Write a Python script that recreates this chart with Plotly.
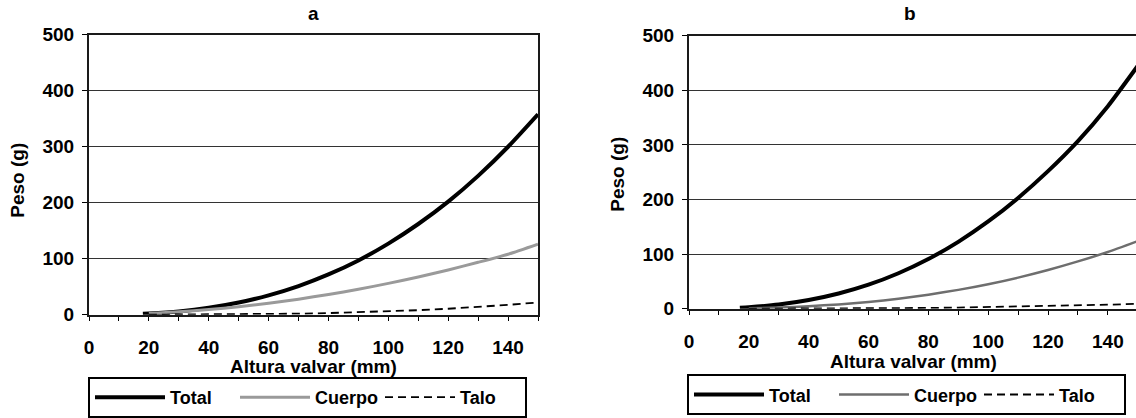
import plotly.graph_objects as go

# ---------------- data ----------------
# Panel a
a_x_total = [18, 20, 30, 40, 50, 60, 70, 80, 90, 100, 110, 120, 130, 140, 150]
a_total = [1.6, 2.1, 5.9, 12.3, 21.7, 34.6, 51.2, 72, 97, 127, 162, 202, 248, 300, 358]
a_x_cuerpo = [20, 30, 40, 50, 60, 70, 80, 90, 100, 110, 120, 130, 140, 150]
a_cuerpo = [2.4, 5.3, 9.3, 14.4, 20.5, 27.8, 36.2, 45.5, 56, 67.5, 80, 93.6, 108, 126]
a_x_talo = [20, 30, 40, 50, 60, 70, 80, 90, 100, 110, 120, 130, 140, 150]
a_talo = [0.1, 0.2, 0.4, 0.7, 1.2, 1.9, 2.9, 4.2, 6, 8.1, 10.7, 13.9, 17.6, 22]

# Panel b
b_x_total = [17, 20, 30, 40, 50, 60, 70, 80, 90, 100, 110, 120, 130, 140, 150]
b_total = [1.8, 2.8, 7.7, 15.9, 27.9, 44.1, 65.1, 91.1, 122.6, 159.9, 203, 252, 307, 371, 445]
b_x_cuerpo = [20, 30, 40, 50, 60, 70, 80, 90, 100, 110, 120, 130, 140, 150]
b_cuerpo = [0.8, 2.2, 4.6, 8.0, 12.5, 18.4, 25.8, 34.6, 45, 57.1, 71, 86.7, 104, 124]
b_x_talo = [20, 30, 40, 50, 60, 70, 80, 90, 100, 110, 120, 130, 140, 150]
b_talo = [0.1, 0.2, 0.3, 0.5, 0.7, 1.0, 1.5, 2.2, 3.0, 4.0, 5.0, 6.2, 7.5, 9.0]

x_ticks = [0, 20, 40, 60, 80, 100, 120, 140]
y_ticks = [0, 100, 200, 300, 400, 500]
panel_titles = ["a", "b"]
x_title = "Altura valvar (mm)"
y_title = "Peso (g)"
names = ["Total", "Cuerpo", "Talo"]

# ---------------- figure ----------------
W, H = 1136, 418
FONT = "Liberation Sans, Arial, Helvetica, sans-serif"

fig = go.Figure()

def add_panel(xa, ya, legend, xt, yt, xc, yc, xl, yl, cuerpo_color, cuerpo_w):
    fig.add_trace(go.Scatter(x=xt, y=yt, mode="lines", name=names[0],
                             line=dict(color="black", width=4, shape="spline", smoothing=0.6),
                             xaxis=xa, yaxis=ya, legend=legend))
    fig.add_trace(go.Scatter(x=xc, y=yc, mode="lines", name=names[1],
                             line=dict(color=cuerpo_color, width=cuerpo_w, shape="spline", smoothing=0.6),
                             xaxis=xa, yaxis=ya, legend=legend))
    fig.add_trace(go.Scatter(x=xl, y=yl, mode="lines", name=names[2],
                             line=dict(color="black", width=1.8, dash="8px,5px"),
                             xaxis=xa, yaxis=ya, legend=legend))

add_panel("x", "y", "legend", a_x_total, a_total, a_x_cuerpo, a_cuerpo,
          a_x_talo, a_talo, "#9a9a9a", 3)
add_panel("x2", "y2", "legend2", b_x_total, b_total, b_x_cuerpo, b_cuerpo,
          b_x_talo, b_talo, "#6e6e6e", 2.5)

# pixel geometry -> paper fractions
def px_x(v):
    return v / W

def px_y(v):
    return (H - v) / H

tickfont = dict(family=FONT, size=19, color="black", weight="bold")

def xaxis_cfg(domain, rng, anchor):
    return dict(domain=domain, range=rng, anchor=anchor,
                tickmode="array", tickvals=x_ticks,
                ticks="outside", ticklen=4, tickwidth=1, tickcolor="black",
                minor=dict(ticks="outside", dtick=10, tick0=0, ticklen=4,
                           tickcolor="black", showgrid=False),
                showline=True, mirror=True, linecolor="#1a1a1a", linewidth=2,
                showgrid=False, zeroline=False, tickfont=tickfont,
                ticklabelstandoff=10, automargin=False, fixedrange=True)

def yaxis_cfg(domain, anchor):
    return dict(domain=domain, range=[0, 500], anchor=anchor,
                tickmode="array", tickvals=y_ticks,
                ticks="outside", ticklen=5, tickwidth=1, tickcolor="black",
                showline=True, mirror=True, linecolor="#1a1a1a", linewidth=2,
                showgrid=True, gridcolor="#333333", gridwidth=1,
                zeroline=False, tickfont=tickfont, ticklabelstandoff=4,
                automargin=False, fixedrange=True)

ax_a = [px_x(89), px_x(538)]
ax_b = [px_x(689), 1.0]
ay_a = [px_y(317), px_y(35)]
ay_b = [px_y(311), px_y(36)]

legend_common = dict(orientation="h", xanchor="left", yanchor="top",
                     bordercolor="black", borderwidth=2, bgcolor="white",
                     font=dict(family=FONT, size=18, color="black", weight="bold"),
                     itemwidth=70, entrywidth=60, tracegroupgap=0,
                     xref="paper", yref="paper")

fig.update_layout(
    width=W, height=H,
    margin=dict(l=0, r=0, t=0, b=0),
    paper_bgcolor="white", plot_bgcolor="white",
    font=dict(family=FONT, color="black"),
    xaxis=xaxis_cfg(ax_a, [0, 150], "y"),
    yaxis=yaxis_cfg(ay_a, "x"),
    xaxis2=xaxis_cfg(ax_b, [0, 149.4], "y2"),
    yaxis2=yaxis_cfg(ay_b, "x2"),
    legend=dict(x=px_x(88), y=px_y(380), **legend_common),
    legend2=dict(x=px_x(687), y=px_y(377), **legend_common),
)

title_font = dict(family=FONT, size=19, color="black", weight="bold")
annotations = [
    dict(text=panel_titles[0], x=px_x(313), y=px_y(14), xref="paper", yref="paper",
         showarrow=False, font=title_font, xanchor="center", yanchor="middle"),
    dict(text=panel_titles[1], x=px_x(910), y=px_y(14), xref="paper", yref="paper",
         showarrow=False, font=title_font, xanchor="center", yanchor="middle"),
    dict(text=x_title, x=px_x(313), y=px_y(369), xref="paper", yref="paper",
         showarrow=False, font=title_font, xanchor="center", yanchor="middle"),
    dict(text=x_title, x=px_x(913), y=px_y(364), xref="paper", yref="paper",
         showarrow=False, font=title_font, xanchor="center", yanchor="middle"),
    dict(text=y_title, x=px_x(18), y=px_y(182), xref="paper", yref="paper",
         showarrow=False, font=title_font, textangle=-90,
         xanchor="center", yanchor="middle"),
    dict(text=y_title, x=px_x(618), y=px_y(176), xref="paper", yref="paper",
         showarrow=False, font=title_font, textangle=-90,
         xanchor="center", yanchor="middle"),
]
fig.update_layout(annotations=annotations)

# remove the browser's default 8px page margin so the figure sits at (0, 0)
fig.write_html("out.html", config={"displayModeBar": False},
               post_script="document.body.style.margin='0';document.body.style.overflow='hidden';")
